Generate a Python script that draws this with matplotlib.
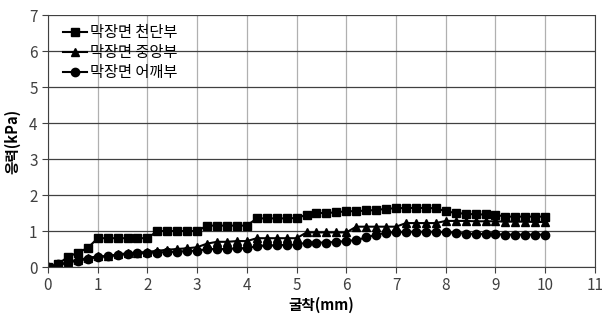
import matplotlib
matplotlib.use("Agg")
import matplotlib.pyplot as plt

plt.rcParams['font.family'] = ['Noto Sans CJK KR', 'DejaVu Sans']

# excavation (mm), readings every 0.2 mm
excavation = [round(i * 0.2, 1) for i in range(51)]

crown = [0, 0.08, 0.28, 0.4, 0.53, 0.8, 0.8, 0.8, 0.8, 0.8, 0.8,
         1.0, 1.0, 1.0, 1.0, 1.0, 1.15, 1.15, 1.15, 1.15, 1.15,
         1.35, 1.35, 1.35, 1.35, 1.36, 1.45, 1.5, 1.5, 1.52, 1.55,
         1.55, 1.57, 1.58, 1.62, 1.63, 1.64, 1.64, 1.64, 1.63, 1.55,
         1.5, 1.48, 1.46, 1.46, 1.45, 1.4, 1.4, 1.4, 1.4, 1.4]

center = [0, 0.02, 0.15, 0.2, 0.25, 0.3, 0.3, 0.35, 0.38, 0.4, 0.42,
          0.45, 0.48, 0.5, 0.52, 0.55, 0.65, 0.7, 0.7, 0.72, 0.72,
          0.8, 0.8, 0.8, 0.8, 0.8, 0.96, 0.96, 0.96, 0.96, 0.96,
          1.12, 1.12, 1.12, 1.12, 1.12, 1.22, 1.22, 1.22, 1.22, 1.28,
          1.28, 1.28, 1.27, 1.27, 1.27, 1.26, 1.26, 1.26, 1.25, 1.25]

shoulder = [0, 0.08, 0.12, 0.18, 0.22, 0.28, 0.3, 0.33, 0.36, 0.38, 0.4,
            0.4, 0.42, 0.42, 0.45, 0.45, 0.5, 0.5, 0.5, 0.52, 0.52,
            0.58, 0.6, 0.6, 0.62, 0.62, 0.68, 0.68, 0.68, 0.7, 0.72,
            0.75, 0.82, 0.9, 0.95, 0.97, 0.98, 0.98, 0.98, 0.98, 0.97,
            0.95, 0.93, 0.92, 0.92, 0.91, 0.9, 0.9, 0.9, 0.9, 0.9]

series = [("막장면 천단부", crown, 's'),
          ("막장면 중앙부", center, '^'),
          ("막장면 어깨부", shoulder, 'o')]

fig = plt.figure(figsize=(6.03, 3.2), dpi=100)
ax = fig.add_axes([0.0796, 0.1656, 0.907, 0.7875])

for name, vals, mk in series:
    ax.plot(excavation, vals, color='black', marker=mk, markersize=6,
            linewidth=1.5, label=name)

ax.set_xlim(0, 11)
ax.set_ylim(0, 7)
ax.set_xticks(range(12))
ax.set_yticks(range(8))
ax.tick_params(labelsize=11, direction='out', length=4, color='#404040', labelcolor='#404040')

ax.grid(True, axis='y', color='#404040', linewidth=0.9)
ax.grid(True, axis='x', color='#b0b0b0', linewidth=0.9)
ax.set_axisbelow(True)
for s in ax.spines.values():
    s.set_color('#404040')
ax.spines['top'].set_visible(False)

ax.set_xlabel("굴착(mm)", fontsize=10.5, fontweight='bold', labelpad=2)
ax.set_ylabel("응력(kPa)", fontsize=10.5, fontweight='bold', labelpad=6)

ax.legend(loc='upper left', frameon=False, fontsize=11, handlelength=1.6,
          handletextpad=0.2, labelspacing=0.2, borderaxespad=0.2,
          bbox_to_anchor=(0.01, 1.0))

fig.savefig("out.png", dpi=100)
